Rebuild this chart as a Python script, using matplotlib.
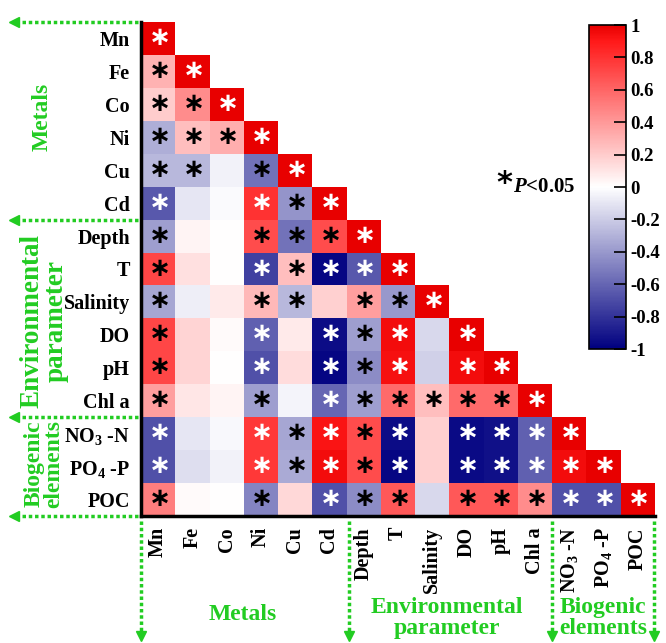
import numpy as np
import matplotlib
matplotlib.use("Agg")
import matplotlib.pyplot as plt
from matplotlib.colors import LinearSegmentedColormap
from matplotlib.lines import Line2D

plt.rcParams['font.family'] = ['Liberation Serif', 'DejaVu Serif']
plt.rcParams['font.weight'] = 'bold'
plt.rcParams['mathtext.fontset'] = 'custom'
plt.rcParams['mathtext.rm'] = 'Liberation Serif:bold'
plt.rcParams['mathtext.it'] = 'Liberation Serif:bold:italic'
plt.rcParams['mathtext.bf'] = 'Liberation Serif:bold'

# === VARIABLES ===
labels = ["Mn", "Fe", "Co", "Ni", "Cu", "Cd", "Depth", "T", "Salinity",
          "DO", "pH", "Chl a", "NO$_3$ -N", "PO$_4$ -P", "POC"]

# lower triangle of the correlation matrix, row by row
corr_rows = [
    [1],
    [0.30, 1],
    [0.20, 0.45, 1],
    [-0.32, 0.25, 0.32, 1],
    [-0.28, -0.28, -0.05, -0.55, 1],
    [-0.65, -0.10, -0.02, 0.80, -0.42, 1],
    [-0.38, 0.04, 0.0, 0.70, -0.55, 0.70, 1],
    [0.72, 0.12, 0.0, -0.75, 0.25, -0.97, -0.65, 1],
    [-0.35, -0.07, 0.08, 0.28, -0.28, 0.18, 0.38, -0.40, 1],
    [0.72, 0.17, 0.02, -0.62, 0.08, -0.95, -0.38, 0.95, -0.15, 1],
    [0.72, 0.17, 0.0, -0.68, 0.14, -0.97, -0.45, 0.93, -0.18, 0.95, 1],
    [0.38, 0.10, 0.04, -0.38, -0.04, -0.60, -0.38, 0.58, 0.25, 0.58, 0.58, 1],
    [-0.68, -0.10, -0.03, 0.78, -0.35, 0.92, 0.70, -0.95, 0.18, -0.96, -0.93, -0.62, 1],
    [-0.68, -0.13, -0.05, 0.78, -0.33, 0.95, 0.70, -0.97, 0.18, -0.96, -0.93, -0.62, 0.95, 1],
    [0.50, 0.02, 0.0, -0.48, 0.15, -0.68, -0.45, 0.65, -0.15, 0.65, 0.65, 0.45, -0.68, -0.68, 1],
]

# significance marks: 'w' white star, 'k' black star, '.' none
sig_rows = [
    "w",
    "kw",
    "kkw",
    "kkkw",
    "kk.kw",
    "w..wkw",
    "k..kkkw",
    "k..wkwww",
    "k..kk.kkw",
    "k..w.wkw.w",
    "k..w.wkw.ww",
    "k..k.wkkkkkw",
    "w..wkwkw.wwww",
    "w..wkwkw.wwwww",
    "k..k.wkk.kkkwww",
]

n = len(labels)
mat = np.full((n, n), np.nan)
for i, row in enumerate(corr_rows):
    mat[i, :len(row)] = row

cmap = LinearSegmentedColormap.from_list(
    "bwr_navy", [(0, '#000080'), (0.5, '#FFFFFF'), (0.95, '#FF1A1A'), (1, '#E80000')])

W, H = 666, 643
green = '#22CC22'

fig = plt.figure(figsize=(W / 100, H / 100), dpi=100)
ax = fig.add_axes([141 / W, 1 - 516 / H, 514 / W, 494 / H])

mesh = ax.pcolormesh(np.arange(n + 1), np.arange(n + 1), np.ma.masked_invalid(mat),
                     cmap=cmap, vmin=-1, vmax=1)
ax.set_xlim(0, n)
ax.set_ylim(n, 0)

for i, row in enumerate(sig_rows):
    for j, s in enumerate(row):
        if s == '.':
            continue
        ax.text(j + 0.5, i + 0.5, r'$\ast$', ha='center', va='center',
                fontsize=19, color='white' if s == 'w' else 'black',
                math_fontfamily='dejavusans')

ax.set_xticks(np.arange(n) + 0.5)
ax.set_yticks(np.arange(n) + 0.5)
ax.set_xticklabels(labels, rotation=90, fontsize=14.5, fontweight='bold')
ax.set_yticklabels(labels, fontsize=14.5, fontweight='bold')
ax.tick_params(length=0, pad=8)
for side in ['top', 'right']:
    ax.spines[side].set_visible(False)
for side in ['left', 'bottom']:
    ax.spines[side].set_linewidth(2.5)

# === COLORBAR ===
cax = fig.add_axes([589 / W, 1 - 349 / H, 37 / W, 324 / H])
cb = fig.colorbar(mesh, cax=cax, ticks=np.linspace(-1, 1, 11))
cb.ax.set_yticklabels(["-1", "-0.8", "-0.6", "-0.4", "-0.2", "0",
                       "0.2", "0.4", "0.6", "0.8", "1"], fontsize=13.5, fontweight='bold')
cb.ax.tick_params(direction='in', length=9, width=1.2, pad=3)
cb.outline.set_linewidth(1.2)

fig.text(496 / W, 1 - 183 / H, '*', fontsize=22, ha='left', va='center',
         family='DejaVu Sans', fontweight='bold')
fig.text(513 / W, 1 - 187 / H, r'$\it{P}$<0.05', fontsize=15, ha='left', va='center',
         fontweight='bold')


# === GROUP ARROWS ===
def arrow(x0, y0, x1, y1, head):
    fig.add_artist(Line2D([x0 / W, x1 / W], [1 - y0 / H, 1 - y1 / H],
                          transform=fig.transFigure, color=green, lw=2.5,
                          ls=(0, (1, 0.8))))
    fig.add_artist(Line2D([x1 / W], [1 - y1 / H], transform=fig.transFigure,
                          color=green, marker=head, markersize=7, ls='none'))


for y in [22, 220, 417, 516]:
    arrow(138, y, 14, y, '<')
for x in [141, 349, 552, 654]:
    arrow(x, 521, x, 636, 'v')

gkw = dict(color=green, fontweight='bold', ha='center', va='center', linespacing=0.95)
fig.text(243 / W, 1 - 615 / H, "Metals", fontsize=17, **gkw)
fig.text(447 / W, 1 - 618 / H, "Environmental\nparameter", fontsize=17, **gkw)
fig.text(603 / W, 1 - 618 / H, "Biogenic\nelements", fontsize=17, **gkw)
fig.text(42 / W, 1 - 117 / H, "Metals", rotation=90, fontsize=17, **gkw)
fig.text(44 / W, 1 - 321 / H, "Environmental\nparameter", rotation=90, fontsize=19.5, **gkw)
fig.text(44 / W, 1 - 464 / H, "Biogenic\nelements", rotation=90, fontsize=17, **gkw)

fig.savefig("out.png", dpi=100)
